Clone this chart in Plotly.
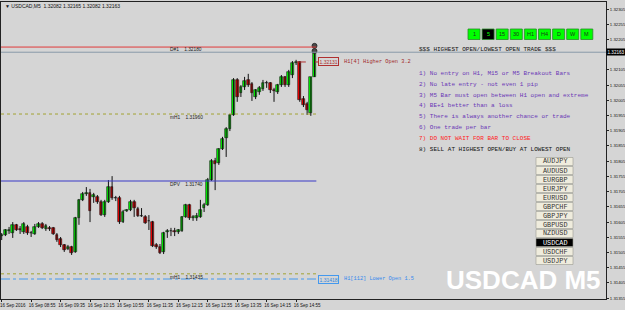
import plotly.graph_objects as go

# ---------------- data (USDCAD M5, 16 Sep 2016, 08:15 .. 15:20) ----------------
opens = [1.31559, 1.31563, 1.31576, 1.31569, 1.31596, 1.31582, 1.31573, 1.31589, 1.31569, 1.31566,
         1.31589, 1.31599, 1.31582, 1.31586, 1.31586, 1.31563, 1.31550, 1.31530, 1.31517, 1.31523,
         1.31507, 1.31619, 1.31678, 1.31697, 1.31701, 1.31687, 1.31687, 1.31671, 1.31628, 1.31671,
         1.31720, 1.31684, 1.31684, 1.31605, 1.31641, 1.31645, 1.31671, 1.31648, 1.31625, 1.31622,
         1.31609, 1.31605, 1.31530, 1.31523, 1.31507, 1.31573, 1.31576, 1.31576, 1.31573, 1.31576,
         1.31622, 1.31661, 1.31619, 1.31619, 1.31622, 1.31651, 1.31661, 1.31743, 1.31806, 1.31799,
         1.31845, 1.31881, 1.31911, 1.31957, 1.32072, 1.32029, 1.32049, 1.32072, 1.32059, 1.32016,
         1.32032, 1.32042, 1.32062, 1.32062, 1.32039, 1.32032, 1.32055, 1.32082, 1.32055, 1.32088,
         1.32128, 1.32131, 1.32009, 1.31993, 1.31963, 1.32082]
highs = [1.31569, 1.31582, 1.31589, 1.31605, 1.31599, 1.31592, 1.31605, 1.31596, 1.31576, 1.31599,
         1.31605, 1.31605, 1.31599, 1.31592, 1.31589, 1.31569, 1.31556, 1.31533, 1.31530, 1.31527,
         1.31622, 1.31681, 1.31704, 1.31720, 1.31714, 1.31701, 1.31694, 1.31678, 1.31678, 1.31743,
         1.31756, 1.31691, 1.31691, 1.31645, 1.31648, 1.31678, 1.31678, 1.31655, 1.31651, 1.31628,
         1.31628, 1.31609, 1.31536, 1.31533, 1.31573, 1.31582, 1.31586, 1.31586, 1.31582, 1.31625,
         1.31665, 1.31665, 1.31628, 1.31635, 1.31678, 1.31668, 1.31750, 1.31812, 1.31816, 1.31848,
         1.31885, 1.31917, 1.31960, 1.32078, 1.32078, 1.32055, 1.32082, 1.32092, 1.32065, 1.32042,
         1.32052, 1.32072, 1.32069, 1.32065, 1.32046, 1.32059, 1.32088, 1.32085, 1.32105, 1.32134,
         1.32138, 1.32134, 1.32019, 1.32000, 1.32082, 1.32165]
lows = [1.31546, 1.31559, 1.31566, 1.31553, 1.31576, 1.31566, 1.31566, 1.31563, 1.31556, 1.31563,
        1.31586, 1.31582, 1.31576, 1.31576, 1.31563, 1.31540, 1.31523, 1.31507, 1.31513, 1.31497,
        1.31504, 1.31596, 1.31674, 1.31691, 1.31605, 1.31668, 1.31665, 1.31625, 1.31622, 1.31668,
        1.31678, 1.31674, 1.31599, 1.31602, 1.31638, 1.31641, 1.31622, 1.31622, 1.31622, 1.31599,
        1.31579, 1.31523, 1.31517, 1.31500, 1.31500, 1.31553, 1.31559, 1.31559, 1.31566, 1.31573,
        1.31619, 1.31612, 1.31609, 1.31609, 1.31619, 1.31638, 1.31658, 1.31740, 1.31710, 1.31793,
        1.31842, 1.31819, 1.31904, 1.31954, 1.32000, 1.32016, 1.32039, 1.32049, 1.32003, 1.32009,
        1.32023, 1.32036, 1.32046, 1.32029, 1.32000, 1.32026, 1.32049, 1.32049, 1.32049, 1.32078,
        1.32121, 1.32000, 1.31983, 1.31957, 1.31954, 1.32082]
closes = [1.31563, 1.31579, 1.31579, 1.31596, 1.31579, 1.31579, 1.31599, 1.31569, 1.31568, 1.31589,
          1.31599, 1.31586, 1.31592, 1.31582, 1.31566, 1.31546, 1.31530, 1.31513, 1.31523, 1.31504,
          1.31619, 1.31678, 1.31697, 1.31701, 1.31642, 1.31694, 1.31671, 1.31628, 1.31671, 1.31720,
          1.31684, 1.31683, 1.31605, 1.31638, 1.31645, 1.31671, 1.31651, 1.31625, 1.31624, 1.31602,
          1.31608, 1.31527, 1.31523, 1.31504, 1.31569, 1.31576, 1.31575, 1.31573, 1.31579, 1.31622,
          1.31661, 1.31619, 1.31622, 1.31625, 1.31645, 1.31661, 1.31743, 1.31806, 1.31796, 1.31845,
          1.31878, 1.31911, 1.31957, 1.32072, 1.32016, 1.32049, 1.32069, 1.32055, 1.32029, 1.32039,
          1.32046, 1.32062, 1.32061, 1.32039, 1.32036, 1.32055, 1.32082, 1.32055, 1.32098, 1.32128,
          1.32131, 1.32006, 1.31990, 1.31973, 1.32080, 1.32163]

time_tick_bars = [0, 8, 16, 24, 32, 40, 48, 56, 64, 72, 80]
time_tick_labels = ["16 Sep 2016", "16 Sep 08:55", "16 Sep 09:35", "16 Sep 10:15", "16 Sep 10:55",
                    "16 Sep 11:35", "16 Sep 12:15", "16 Sep 12:55", "16 Sep 13:35", "16 Sep 14:15",
                    "16 Sep 14:55"]
price_ticks = [1.31355, 1.31405, 1.31455, 1.31505, 1.31555, 1.31605, 1.31655, 1.31705, 1.31755,
               1.31805, 1.31855, 1.31905, 1.31955, 1.32005, 1.32055, 1.32105, 1.32205, 1.32255,
               1.32305]

bid_price = 1.32163
d1_level = 1.32180
mh1_high = 1.31960
dpv_level = 1.31740
mh1_low = 1.31435
h1_higher_open = 1.32131
h1_higher_open_bar = 81
h1_lower_open = 1.31418
icon_prices = [1.32184, 1.32167]
icon_bar = 85

rules = ["$$$ HIGHEST OPEN/LOWEST OPEN TRADE $$$",
         "1) No entry on H1, M15 or M5 Breakout Bars",
         "2) No late entry - not even 1 pip",
         "3) M5 Bar must open between H1 open and extreme",
         "4) BE+1 better than a loss",
         "5) There is always another chance or trade",
         "6) One trade per bar",
         "7) DO NOT WAIT FOR BAR TO CLOSE",
         "8) SELL AT HIGHEST OPEN/BUY AT LOWEST OPEN"]
timeframes = ["1", "5", "15", "30", "H1", "H4", "D", "W", "M"]
active_tf = "5"
symbols = ["AUDJPY", "AUDUSD", "EURGBP", "EURJPY", "EURUSD", "GBPCHF", "GBPJPY",
           "GBPUSD", "NZDUSD", "USDCAD", "USDCHF", "USDJPY"]
active_symbol = "USDCAD"

# ---------------- layout geometry ----------------
W, H = 625, 310
L_PX, R_PX, T_PX, B_PX = 1, 606, 2, 299
BG = "#D5D5D5"
X_MIN = -0.19
X_MAX = X_MIN + (R_PX - L_PX) / 3.68
Y_TOP, Y_BOT = 1.32328, 1.313523
LINE_END = 85.5


def px(x):
    return (x - L_PX) / (R_PX - L_PX)


def py(y):
    return (B_PX - y) / (B_PX - T_PX)


n = len(opens)
idx = list(range(n))

fig = go.Figure()

wx, wy = [], []
for i in idx:
    wx += [i, i, None]
    wy += [lows[i], highs[i], None]
fig.add_trace(go.Scatter(x=wx, y=wy, mode="lines", line=dict(color="#111111", width=1),
                         hoverinfo="skip", showlegend=False))

base = [min(o, c) for o, c in zip(opens, closes)]
height = [max(abs(c - o), 0.000018) for o, c in zip(opens, closes)]
colors = ["#00FF00" if c >= o else "#FF0000" for o, c in zip(opens, closes)]
fig.add_trace(go.Bar(x=idx, y=height, base=base, width=0.72,
                     marker=dict(color=colors, line=dict(color="#111111", width=0.6)),
                     showlegend=False, hoverinfo="skip"))

fig.add_trace(go.Scatter(x=[icon_bar] * len(icon_prices), y=icon_prices, mode="markers",
                         marker=dict(symbol="circle", size=5, color="#4A4A4A",
                                     line=dict(color="#222222", width=0.8)),
                         showlegend=False, hoverinfo="skip"))

shapes = []
shapes.append(dict(type="line", xref="paper", x0=0, x1=1, yref="y", y0=bid_price, y1=bid_price,
                   line=dict(color="#8A9AAA", width=1)))
shapes.append(dict(type="line", xref="x", x0=X_MIN, x1=LINE_END, yref="y", y0=d1_level, y1=d1_level,
                   line=dict(color="#E03A3A", width=1)))
for lv in (mh1_high, mh1_low):
    shapes.append(dict(type="line", xref="x", x0=X_MIN, x1=LINE_END, yref="y", y0=lv, y1=lv,
                       line=dict(color="#A3A332", width=1, dash="dot")))
shapes.append(dict(type="line", xref="x", x0=X_MIN, x1=LINE_END, yref="y", y0=dpv_level, y1=dpv_level,
                   line=dict(color="#3A3AC8", width=1.2)))
shapes.append(dict(type="line", xref="x", x0=h1_higher_open_bar - 0.8, x1=86.5, yref="y",
                   y0=h1_higher_open, y1=h1_higher_open,
                   line=dict(color="#B03030", width=1, dash="dash")))
shapes.append(dict(type="line", xref="x", x0=X_MIN, x1=86.5, yref="y",
                   y0=h1_lower_open, y1=h1_lower_open,
                   line=dict(color="#4499EE", width=1, dash="dashdot")))

annotations = []
MONO = "Liberation Mono, Courier New, monospace"
SANS = "Liberation Sans, Arial, sans-serif"

annotations.append(dict(xref="paper", yref="paper", x=px(3), y=py(5.5), xanchor="left", yanchor="middle",
                        text="▼ USDCAD,M5  1.32082 1.32165 1.32082 1.32163", showarrow=False,
                        font=dict(family=SANS, size=5, color="#111111")))

for lbl, ypix in [("D#1    %.5f" % d1_level, 49.5),
                  ("mH1    %.5f" % mh1_high, 117),
                  ("DPV    %.5f" % dpv_level, 184),
                  ("mH1    %.5f" % mh1_low, 277)]:
    annotations.append(dict(xref="paper", yref="paper", x=px(168), y=py(ypix), xanchor="left",
                            yanchor="middle", text=lbl, showarrow=False,
                            font=dict(family=SANS, size=4.8, color="#222222")))

annotations.append(dict(xref="paper", yref="y", x=px(318), y=h1_higher_open, xanchor="left", yanchor="middle",
                        text="%.5f" % h1_higher_open, showarrow=False, bgcolor=BG,
                        bordercolor="#B03030", borderwidth=1, borderpad=0.5,
                        font=dict(family=SANS, size=5, color="#B03030")))
annotations.append(dict(xref="paper", yref="y", x=px(342), y=h1_higher_open, xanchor="left", yanchor="middle",
                        text="H1[4] Higher Open 3.2", showarrow=False,
                        font=dict(family=MONO, size=5.3, color="#A02828")))
annotations.append(dict(xref="paper", yref="y", x=px(318), y=h1_lower_open, xanchor="left", yanchor="middle",
                        text="%.5f" % h1_lower_open, showarrow=False, bgcolor=BG,
                        bordercolor="#4499EE", borderwidth=1, borderpad=0.5,
                        font=dict(family=SANS, size=5, color="#3388DD")))
annotations.append(dict(xref="paper", yref="y", x=px(342), y=h1_lower_open, xanchor="left", yanchor="middle",
                        text="H1[112] Lower Open 1.5", showarrow=False,
                        font=dict(family=MONO, size=5.3, color="#3388EE")))

rule_colors = ["#111111"] + ["#6A35B5"] * 6 + ["#FF2222", "#111111"]
rule_y = [49.5, 73.3, 84.2, 95.1, 106, 116.9, 127.8, 138.7, 149.6]
for t, c, yy in zip(rules, rule_colors, rule_y):
    annotations.append(dict(xref="paper", yref="paper", x=px(417), y=py(yy), xanchor="left", yanchor="middle",
                            text=t, showarrow=False, font=dict(family=MONO, size=6.0, color=c)))

for k, tf in enumerate(timeframes):
    cx = 474 + 14.1 * k
    active = tf == active_tf
    shapes.append(dict(type="rect", xref="paper", yref="paper",
                       x0=px(cx - 6), x1=px(cx + 6), y0=py(29), y1=py(39.5),
                       fillcolor="#000000" if active else "#00FF00",
                       line=dict(color="#2A8A2A", width=0.8)))
    annotations.append(dict(xref="paper", yref="paper", x=px(cx), y=py(34.3), xanchor="center",
                            yanchor="middle", text=tf, showarrow=False,
                            font=dict(family=SANS, size=5.5, color="#00FF00" if active else "#1A3A1A")))

for k, s in enumerate(symbols):
    cy = 161.5 + 9.0 * k
    active = s == active_symbol
    shapes.append(dict(type="rect", xref="paper", yref="paper",
                       x0=px(536), x1=px(573), y0=py(cy - 4), y1=py(cy + 4),
                       fillcolor="#000000" if active else "#EFECDD",
                       line=dict(color="#9A9A90", width=0.6)))
    annotations.append(dict(xref="paper", yref="paper", x=px(554.5), y=py(cy), xanchor="center",
                            yanchor="middle", text=s, showarrow=False,
                            font=dict(family=MONO, size=6.8, color="#FFFFFF" if active else "#333333")))

annotations.append(dict(xref="paper", yref="paper", x=px(523.5), y=py(279.5), xanchor="center", yanchor="middle",
                        text="USDCAD M5", showarrow=False,
                        font=dict(family=SANS, size=26, color="#FFFFFF", weight=700)))

annotations.append(dict(xref="paper", yref="y", x=1.0, y=bid_price, xanchor="left", yanchor="middle",
                        text="%.5f" % bid_price, showarrow=False, bgcolor="#000000", borderpad=0.5,
                        font=dict(family=SANS, size=4.6, color="#FFFFFF")))

fig.update_layout(
    width=W, height=H,
    margin=dict(l=L_PX, r=W - R_PX, t=T_PX, b=H - B_PX, pad=0),
    paper_bgcolor=BG, plot_bgcolor=BG,
    showlegend=False, bargap=0,
    shapes=shapes, annotations=annotations,
    xaxis=dict(range=[X_MIN, X_MAX], showgrid=False, zeroline=False, automargin=False,
               showline=True, linecolor="#222222", linewidth=1, mirror=True,
               tickmode="array", tickvals=time_tick_bars, ticktext=time_tick_labels,
               ticks="outside", ticklen=2, tickcolor="#222222", ticklabelshift=11, tickangle=0,
               ticklabeloverflow="allow",
               tickfont=dict(family=SANS, size=4.5, color="#111111")),
    yaxis=dict(range=[Y_BOT, Y_TOP], side="right", showgrid=False, zeroline=False, automargin=False,
               showline=True, linecolor="#222222", linewidth=1, mirror=True,
               tickmode="array", tickvals=price_ticks, ticktext=["%.5f" % v for v in price_ticks],
               ticks="outside", ticklen=2, tickcolor="#222222", ticklabeloverflow="allow",
               tickfont=dict(family=SANS, size=4.3, color="#111111")),
)

fig.write_html("out.html")
